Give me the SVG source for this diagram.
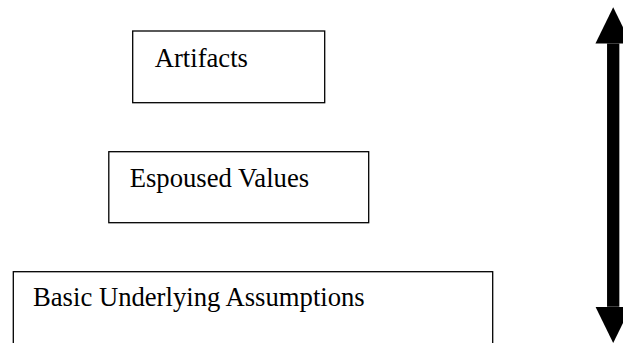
<svg xmlns="http://www.w3.org/2000/svg" width="623" height="343" viewBox="0 0 623 343">
  <style>
    .box { fill: #ffffff; stroke: #000000; stroke-width: 1.3; }
    .label { font-family: "Liberation Serif", "Times New Roman", serif; font-size: 26.67px; fill: #000000; }
    .arrow { stroke: #000000; stroke-width: 12.3; fill: none; }
  </style>
  <defs>
    <marker id="head" markerUnits="userSpaceOnUse" markerWidth="37" markerHeight="36" refX="0" refY="17.75" orient="auto-start-reverse" viewBox="0 0 37 36">
      <path d="M0,0 L36.3,17.75 L0,35.5 Z" fill="#000000"/>
    </marker>
  </defs>
  <rect width="623" height="343" fill="#ffffff"/>
  <g id="artifacts">
    <rect class="box" x="132.7" y="31" width="192" height="71.7"/>
    <text class="label" x="154.7" y="67.3">Artifacts</text>
  </g>
  <g id="espoused-values">
    <rect class="box" x="108.8" y="151.7" width="259.9" height="71"/>
    <text class="label" x="129.7" y="186.7">Espoused Values</text>
  </g>
  <g id="basic-underlying-assumptions">
    <rect class="box" x="13.3" y="271.7" width="479.4" height="80"/>
    <text class="label" x="33" y="306">Basic Underlying Assumptions</text>
  </g>
  <g id="connectors">
    <line class="arrow" x1="613.2" y1="43.5" x2="613.2" y2="306.7" marker-start="url(#head)" marker-end="url(#head)"/>
  </g>
</svg>
